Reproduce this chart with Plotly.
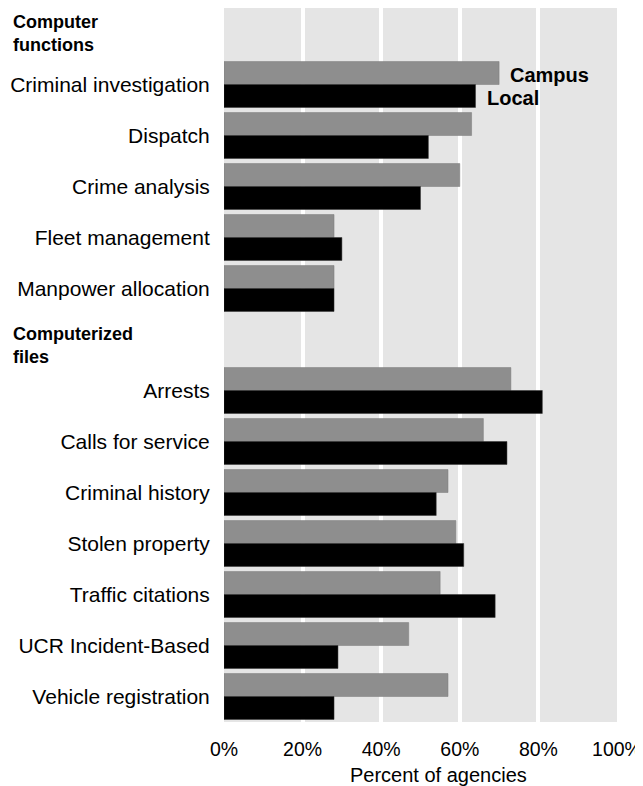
import plotly.graph_objects as go

categories = ["Computer functions", "Criminal investigation", "Dispatch", "Crime analysis",
              "Fleet management", "Manpower allocation", "Computerized files", "Arrests",
              "Calls for service", "Criminal history", "Stolen property", "Traffic citations",
              "UCR Incident-Based", "Vehicle registration"]
is_header = [True, False, False, False, False, False, True, False, False, False, False, False, False, False]
campus = [None, 70, 63, 60, 28, 28, None, 73, 66, 57, 59, 55, 47, 57]
local = [None, 64, 52, 50, 30, 28, None, 81, 72, 54, 61, 69, 29, 28]
x_ticks = [0, 20, 40, 60, 80, 100]
x_tick_labels = ["0%", "20%", "40%", "60%", "80%", "100%"]
header_labels = {"Computer functions": "Computer<br>functions", "Computerized files": "Computerized<br>files"}
header_yshift = {"Computer functions": 0, "Computerized files": -6}

ypos = list(range(len(categories)))
ticktext = ["" if h else c for c, h in zip(categories, is_header)]

FONT = "Liberation Sans, Arial, sans-serif"

fig = go.Figure()
fig.add_trace(go.Bar(y=ypos, x=campus, orientation="h", name="Campus",
                     marker=dict(color="#8e8e8e", line=dict(color="#7a7a7a", width=0.5))))
fig.add_trace(go.Bar(y=ypos, x=local, orientation="h", name="Local",
                     marker=dict(color="#000000", line=dict(color="#333333", width=0.5))))

annotations = []
for i, (c, h) in enumerate(zip(categories, is_header)):
    if h:
        annotations.append(dict(text="<b>" + header_labels[c] + "</b>", xref="paper", yref="y",
                                x=-0.542, y=i, xanchor="left", yanchor="middle", showarrow=False,
                                yshift=header_yshift[c],
                                align="left", font=dict(family=FONT, size=18, color="black")))
annotations.append(dict(text="<b>Campus</b>", xref="x", yref="y", x=campus[1], y=1,
                        xanchor="left", yanchor="middle", xshift=9, yshift=9.5, showarrow=False,
                        font=dict(family=FONT, size=20, color="black")))
annotations.append(dict(text="<b>Local</b>", xref="x", yref="y", x=local[1], y=1,
                        xanchor="left", yanchor="middle", xshift=9, yshift=-13.5, showarrow=False,
                        font=dict(family=FONT, size=20, color="black")))
annotations.append(dict(text="Percent of agencies", xref="paper", yref="paper", x=0.547, y=0,
                        xanchor="center", yanchor="middle", yshift=-53, showarrow=False,
                        font=dict(family=FONT, size=20, color="black")))

fig.update_layout(
    width=635, height=778,
    margin=dict(l=216, r=26, t=0, b=64),
    barmode="group", bargap=0.1, bargroupgap=0,
    plot_bgcolor="#e5e5e5", paper_bgcolor="white",
    showlegend=False,
    font=dict(family=FONT, size=20, color="black"),
    annotations=annotations,
)
fig.update_xaxes(range=[0, 100], tickvals=x_ticks, ticktext=x_tick_labels,
                 showgrid=True, gridcolor="white", gridwidth=4, zeroline=False,
                 ticks="outside", ticklen=10, tickcolor="rgba(0,0,0,0)",
                 tickfont=dict(size=19.5), fixedrange=True)
fig.update_yaxes(range=[len(categories) - 0.5, -0.5], tickvals=ypos, ticktext=ticktext,
                 showgrid=False, zeroline=False, ticks="outside", ticklen=9,
                 tickcolor="rgba(0,0,0,0)", tickfont=dict(size=21), fixedrange=True)

fig.write_html("out.html")
